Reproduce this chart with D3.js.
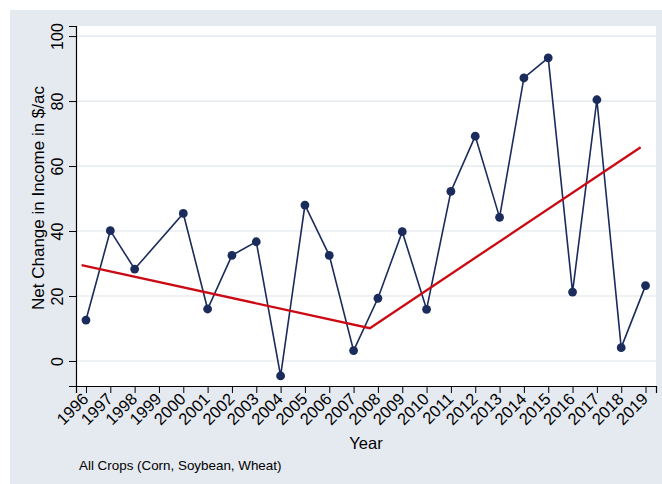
<!DOCTYPE html>
<html><head><meta charset="utf-8">
<script src="https://cdnjs.cloudflare.com/ajax/libs/d3/7.8.5/d3.min.js"></script>
<style>body{margin:0;background:#fff}svg{display:block}text{font-family:Arial,"Liberation Sans",sans-serif;fill:#000}</style>
</head><body><svg id="c" width="662" height="484"></svg>
<script>
const years = [1996,1997,1998,2000,2001,2002,2003,2004,2005,2006,2007,2008,2009,2010,2011,2012,2013,2014,2015,2016,2017,2018,2019];
const income = [12.6,40.1,28.3,45.4,16.0,32.5,36.7,-4.6,48.0,32.5,3.2,19.3,39.8,15.9,52.2,69.2,44.2,87.1,93.3,21.2,80.4,4.1,23.2];
const trendYears = [1995.82,2007.67,2018.8];
const trendValues = [29.5,10.1,65.8];
const xTickLabels = d3.range(1996,2020);
const yTickLabels = [0,20,40,60,80,100];
const yTitle = "Net Change in Income in $/ac";
const xTitle = "Year";
const note = "All Crops (Corn, Soybean, Wheat)";

const svg = d3.select("#c");
const L=76,R=656,T=26,B=386;
svg.append("rect").attr("x",10).attr("y",10).attr("width",652).attr("height",474).attr("fill","#E5E9F0");
svg.append("rect").attr("x",L).attr("y",T).attr("width",R-L).attr("height",B-T).attr("fill","#fff");

const x = d3.scaleLinear().domain([1995.59,2019.43]).range([L,R]);
const y = d3.scaleLinear().domain([-7.7,103.1]).range([B,T]);

svg.append("g").selectAll("line").data(yTickLabels).join("line")
  .attr("x1",L).attr("x2",R).attr("y1",d=>y(d)).attr("y2",d=>y(d))
  .attr("stroke","#DFE6EC").attr("stroke-width",1.2);

const ya = svg.append("g").attr("transform",`translate(${L},0)`)
  .call(d3.axisLeft(y).tickValues(yTickLabels).tickSize(7).tickPadding(6).tickFormat(d3.format("d")));
ya.select(".domain").attr("stroke","#000").attr("stroke-width",1.2);
ya.selectAll(".tick line").attr("stroke","#000");
ya.selectAll(".tick text").style("font-size","16px").attr("text-anchor","middle")
  .attr("x",null).attr("dy",null)
  .attr("transform","translate(-13,0) rotate(-90)");

const xa = svg.append("g").attr("transform",`translate(0,${B})`)
  .call(d3.axisBottom(x).tickValues(xTickLabels).tickSize(7).tickFormat(d3.format("d")));
xa.select(".domain").attr("stroke","#000").attr("stroke-width",1.2);
xa.selectAll(".tick line").attr("stroke","#000");
xa.selectAll(".tick text").style("font-size","16.5px").attr("text-anchor","end")
  .attr("y",null).attr("dy",null)
  .attr("transform","translate(3,14) rotate(-45)");

svg.append("text").attr("transform",`translate(44,198) rotate(-90)`)
  .attr("text-anchor","middle").style("font-size","17px").text(yTitle);
svg.append("text").attr("x",(L+R)/2).attr("y",449).attr("text-anchor","middle")
  .style("font-size","16.5px").text(xTitle);
svg.append("text").attr("x",79).attr("y",469.5).style("font-size","13.4px").text(note);

const pts = years.map((d,i)=>[d,income[i]]);
svg.append("path").datum(pts)
  .attr("d",d3.line().x(d=>x(d[0])).y(d=>y(d[1])))
  .attr("fill","none").attr("stroke","#1A2B5C").attr("stroke-width",1.6);
svg.append("g").selectAll("circle").data(pts).join("circle")
  .attr("cx",d=>x(d[0])).attr("cy",d=>y(d[1])).attr("r",4.4).attr("fill","#1A2B5C");

const tr = trendYears.map((d,i)=>[d,trendValues[i]]);
svg.append("path").datum(tr)
  .attr("d",d3.line().x(d=>x(d[0])).y(d=>y(d[1])))
  .attr("fill","none").attr("stroke","#CC0A14").attr("stroke-width",2.3);
</script></body></html>
